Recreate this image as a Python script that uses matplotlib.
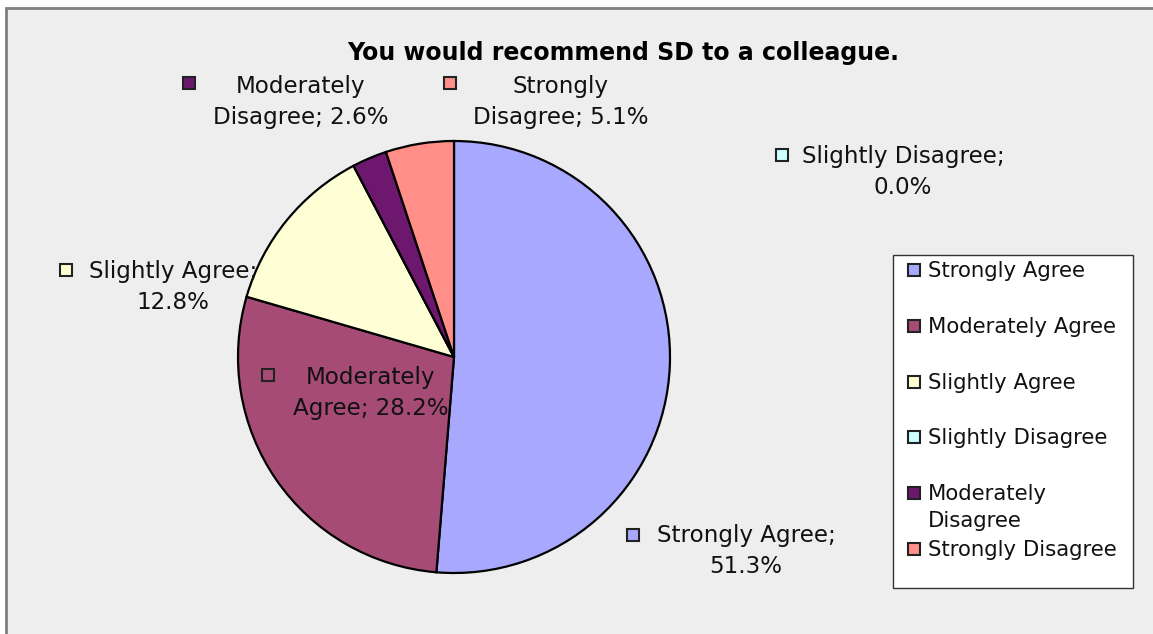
import matplotlib
matplotlib.use("Agg")
import matplotlib.pyplot as plt
from matplotlib.patches import Rectangle

categories = ["Strongly Agree", "Moderately Agree", "Slightly Agree",
              "Slightly Disagree", "Moderately Disagree", "Strongly Disagree"]
percent = [51.3, 28.2, 12.8, 0.0, 2.6, 5.1]
colors = ["#a8a8ff", "#a64b75", "#ffffd6", "#ccffff", "#6d186e", "#ff8f88"]
legend_labels = ["Strongly Agree", "Moderately Agree", "Slightly Agree",
                 "Slightly Disagree", "Moderately\nDisagree", "Strongly Disagree"]

W, H = 1153, 634
fig = plt.figure(figsize=(W / 100, H / 100), dpi=100)
fig.patch.set_facecolor("white")
plt.rcParams["font.family"] = ["DejaVu Sans"]

# overlay in pixel coords (y down) for background, labels and legend
bg = fig.add_axes([0, 0, 1, 1], zorder=0)
bg.set_xlim(0, W)
bg.set_ylim(H, 0)
bg.axis("off")
bg.add_patch(Rectangle((6, 8), W + 10, H + 10, facecolor="#eeeeee",
                       edgecolor="#7f7f7f", linewidth=2))

# pie
cx, cy, r = 454, 357, 216
ax = fig.add_axes([(cx - r) / W, (H - cy - r) / H, 2 * r / W, 2 * r / H], zorder=1)
ax.pie(percent, colors=colors, startangle=90, counterclock=False,
       wedgeprops=dict(edgecolor="black", linewidth=1.6))
ax.set_xlim(-1, 1)
ax.set_ylim(-1, 1)
ax.set_aspect("equal")
ax.axis("off")

ov = fig.add_axes([0, 0, 1, 1], zorder=2)
ov.set_xlim(0, W)
ov.set_ylim(H, 0)
ov.axis("off")
ov.patch.set_alpha(0)

ov.text(623, 53, "You would recommend SD to a colleague.", ha="center", va="center",
        fontsize=17, fontweight="bold")

# data labels: text center, key square position
label_pos = [(746, 551, 633, 535), (371, 393, 268, 375), (173, 287, 66, 270),
             (903, 172, 782, 155), (301, 102, 189, 83), (561, 102, 450, 83)]
for name, val, col, (tx, ty, sx, sy) in zip(categories, percent, colors, label_pos):
    if name in ("Moderately Disagree", "Strongly Disagree", "Moderately Agree"):
        w1, w2 = name.split(" ")
        txt = f"{w1}\n{w2}; {val:.1f}%"
    else:
        txt = f"{name};\n{val:.1f}%"
    ov.text(tx, ty, txt, ha="center", va="center", fontsize=16.6, linespacing=1.42,
            color="#111111")
    ov.add_patch(Rectangle((sx - 6, sy - 6), 12, 12, facecolor=col,
                           edgecolor="#222222", linewidth=1.5))

# legend
ov.add_patch(Rectangle((893, 255), 240, 333, facecolor="white",
                       edgecolor="#333333", linewidth=1))
leg_y = [270, 326, 382, 437, 493, 549]
for lab, col, y in zip(legend_labels, colors, leg_y):
    ov.add_patch(Rectangle((908, y - 6), 12, 12, facecolor=col,
                           edgecolor="#222222", linewidth=1.5))
    ov.text(928, y - 9, lab, ha="left", va="top", fontsize=15.3, linespacing=1.45,
            color="#111111")

fig.savefig("out.png", dpi=100, facecolor=fig.get_facecolor())
